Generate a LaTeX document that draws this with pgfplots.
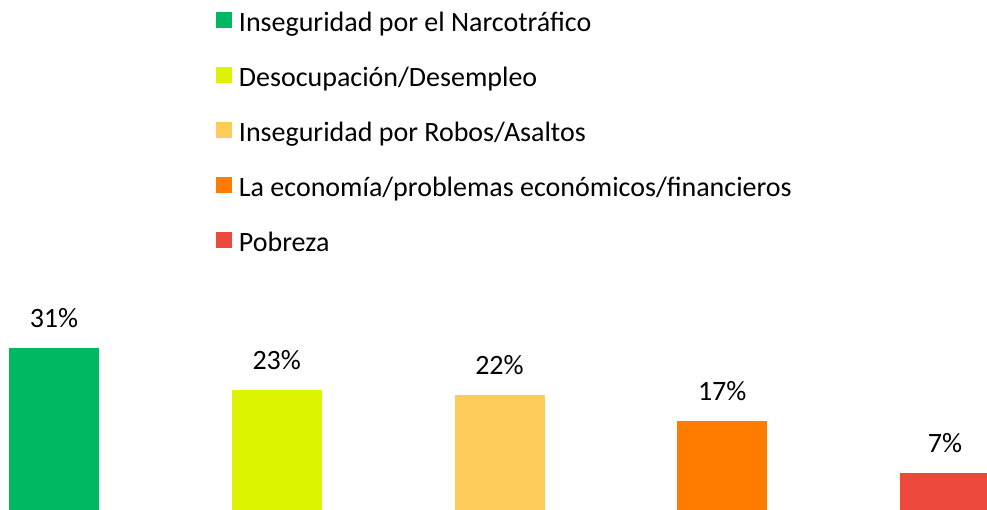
\documentclass[border=0pt]{standalone}
\usepackage{pgfplots}
\pgfplotsset{compat=1.18}
\usepackage{fontspec}
\setmainfont{Carlito}
\definecolor{cA}{RGB}{0,184,96}
\definecolor{cB}{RGB}{220,244,0}
\definecolor{cC}{RGB}{255,204,92}
\definecolor{cD}{RGB}{255,124,0}
\definecolor{cE}{RGB}{236,72,60}
\begin{document}
\begin{tikzpicture}
\begin{axis}[
  scale only axis,
  width=987pt, height=510pt,
  xmin=-0.2424, xmax=4.1886,
  ymin=0, ymax=97.6,
  hide axis,
  ybar, bar width=90pt, bar shift=0pt,
  /pgf/number format/assume math mode=true,
  nodes near coords={\pgfmathprintnumber{\pgfplotspointmeta}\%},
  every node near coord/.append style={inner sep=0pt, yshift=20pt, font=\fontsize{28}{33}\selectfont, text=black},
  clip mode=individual,
  legend image code/.code={\fill[#1,draw=none] (0pt,-3pt) rectangle (16pt,13pt);},
  legend cell align=left,
  legend style={at={(0.2188,0.9765)}, anchor=north west, draw=none, fill=none,
    inner sep=0pt, outer sep=0pt,
    font=\fontsize{28}{33}\selectfont,
    nodes={inner sep=0pt, text height=20pt, text depth=7pt},
    column sep=7pt, row sep=28pt},
]
\addplot[fill=cA, draw=none] coordinates {(0,31)};
\addlegendentry{Inseguridad por el Narcotráfico}
\addplot[fill=cB, draw=none] coordinates {(1,23)};
\addlegendentry{Desocupación/Desempleo}
\addplot[fill=cC, draw=none] coordinates {(2,22)};
\addlegendentry{Inseguridad por Robos/Asaltos}
\addplot[fill=cD, draw=none] coordinates {(3,17)};
\addlegendentry{La economía/problemas económicos/financieros}
\addplot[fill=cE, draw=none] coordinates {(4,7)};
\addlegendentry{Pobreza}
\end{axis}
\path (current axis.south west) rectangle (current axis.north east);
\end{tikzpicture}
\end{document}
